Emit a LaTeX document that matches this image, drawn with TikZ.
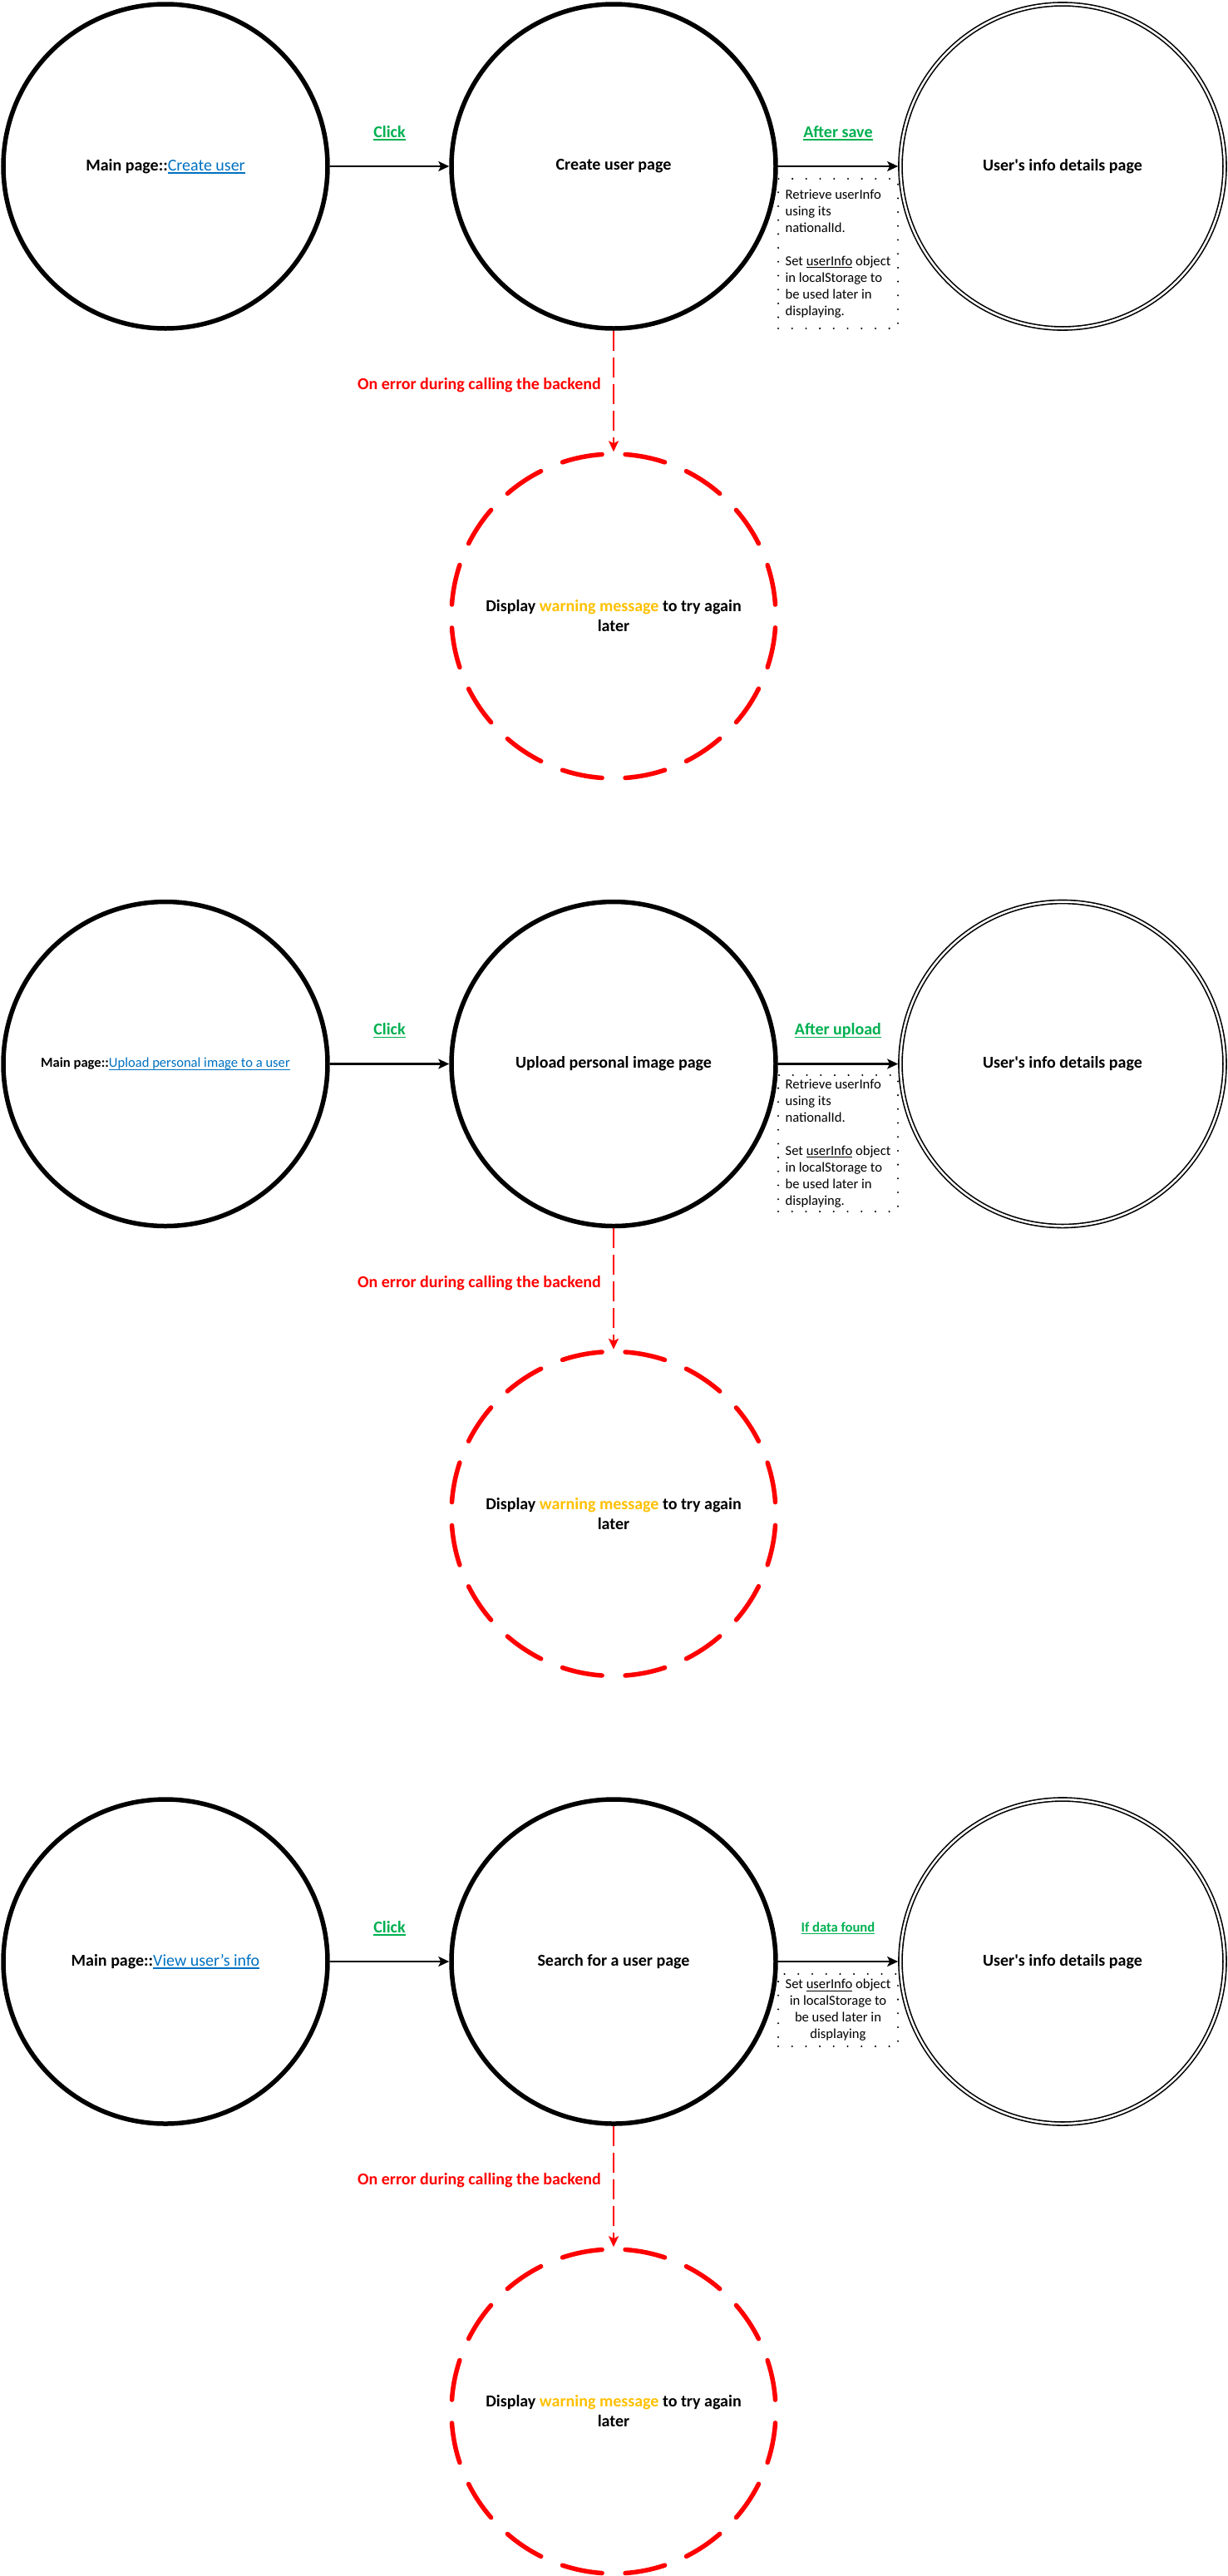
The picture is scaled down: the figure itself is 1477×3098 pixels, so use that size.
\documentclass[tikz,border=0pt]{standalone}
\usepackage{fontspec}
\setmainfont{Carlito}
\usetikzlibrary{arrows.meta}
\definecolor{linkblue}{HTML}{0070C0}
\definecolor{okgreen}{HTML}{00B050}
\definecolor{warnamber}{HTML}{FFC000}
\definecolor{errred}{HTML}{FF0000}
% underline drawn as a rule below the word, in the current colour
\newcommand{\uln}[1]{\setbox0\hbox{#1}\rlap{\rule[-0.16em]{\wd0}{0.06em}}\box0\relax}
\newcommand{\lnk}[1]{\textcolor{linkblue}{\uln{#1}}}
\newcommand{\warnword}[1]{\textcolor{warnamber}{#1}}
\tikzset{
  big/.style={font=\fontsize{20}{24}\selectfont},
  small/.style={font=\fontsize{16.6}{20}\selectfont},
  state/.style={circle, draw, line width=5.5pt, minimum size=390pt, inner sep=0pt, big, align=center},
  final/.style={circle, draw, line width=1.6pt, double, double distance=2.5pt, minimum size=390pt,
    inner sep=0pt, outer sep=2.85pt, big, align=center},
  errstate/.style={circle, draw=errred, line width=5.5pt, line cap=round,
    dash pattern=on 48.6pt off 28pt, dash phase=62.7pt, minimum size=390pt, inner sep=0pt, big, align=center},
  flow/.style={line width=2.2pt, -{Stealth[length=13pt, width=12pt, inset=3pt]}},
  errflow/.style={draw=errred, line width=2.2pt, dash pattern=on 24pt off 8pt,
    -{Stealth[length=13pt, width=12pt, inset=3pt, fill=errred]}},
  evlabel/.style={midway, yshift=40pt, inner sep=0pt, text=okgreen},
  errlabel/.style={pos=0.45, left=14pt, inner sep=0pt, text=errred, big},
  note/.style={draw, line width=2.3pt, line cap=round, dash pattern=on 0pt off 16.7pt,
    inner sep=0pt, small, minimum width=144pt}
}
\begin{document}
\begin{tikzpicture}[x=1pt, y=-1pt]
\useasboundingbox (0,0) rectangle (1477,3098);

% ---- Create user ----
\node[state] (main1) at (199,200) {\textbf{Main page::}\lnk{Create user}};
\node[state] (page1) at (738,200) {\textbf{Create user page}};
\node[final] (info1) at (1278,200) {\textbf{User\textquotesingle s info details page}};
\node[errstate] (warn1) at (738,741) {\textbf{Display \warnword{warning message} to try again}\\\textbf{later}};
\node[note, minimum height=180pt, align=left] (note1) at (1008,305)
  {Retrieve userInfo\\using its\\nationalId.\\[20pt]Set \uln{userInfo} object\\in localStorage to\\be used later in\\displaying.};
\draw[flow] (main1) -- node[evlabel, big]{\textbf{\uln{Click}}} (page1);
\draw[flow] (page1) -- node[evlabel, big]{\textbf{\uln{After save}}} (info1);
\draw[errflow] (page1) -- node[errlabel]{\textbf{On error during calling the backend}} (warn1);

% ---- Upload personal image ----
\node[state] (main2) at (199,1279.5) {\fontsize{16.6}{20}\selectfont\textbf{Main page::}\lnk{Upload personal image to a user}};
\node[state] (page2) at (738,1279.5) {\textbf{Upload personal image page}};
\node[final] (info2) at (1278,1279.5) {\textbf{User\textquotesingle s info details page}};
\node[errstate] (warn2) at (738,1820.5) {\textbf{Display \warnword{warning message} to try again}\\\textbf{later}};
\node[note, minimum height=164pt, align=left] (note2) at (1008,1375)
  {Retrieve userInfo\\using its\\nationalId.\\[20pt]Set \uln{userInfo} object\\in localStorage to\\be used later in\\displaying.};
\draw[flow] (main2) -- node[evlabel, big]{\textbf{\uln{Click}}} (page2);
\draw[flow] (page2) -- node[evlabel, big]{\textbf{\uln{After upload}}} (info2);
\draw[errflow] (page2) -- node[errlabel]{\textbf{On error during calling the backend}} (warn2);

% ---- View user's info ----
\node[state] (main3) at (199,2359) {\textbf{Main page::}\lnk{View user’s info}};
\node[state] (page3) at (738,2359) {\textbf{Search for a user page}};
\node[final] (info3) at (1278,2359) {\textbf{User\textquotesingle s info details page}};
\node[errstate] (warn3) at (738,2900) {\textbf{Display \warnword{warning message} to try again}\\\textbf{later}};
\node[note, minimum height=87pt, align=center] (note3) at (1008,2417.5)
  {Set \uln{userInfo} object\\in localStorage to\\be used later in\\displaying};
\draw[flow] (main3) -- node[evlabel, big]{\textbf{\uln{Click}}} (page3);
\draw[flow] (page3) -- node[evlabel, small]{\textbf{\uln{If data found}}} (info3);
\draw[errflow] (page3) -- node[errlabel]{\textbf{On error during calling the backend}} (warn3);
\end{tikzpicture}
\end{document}
